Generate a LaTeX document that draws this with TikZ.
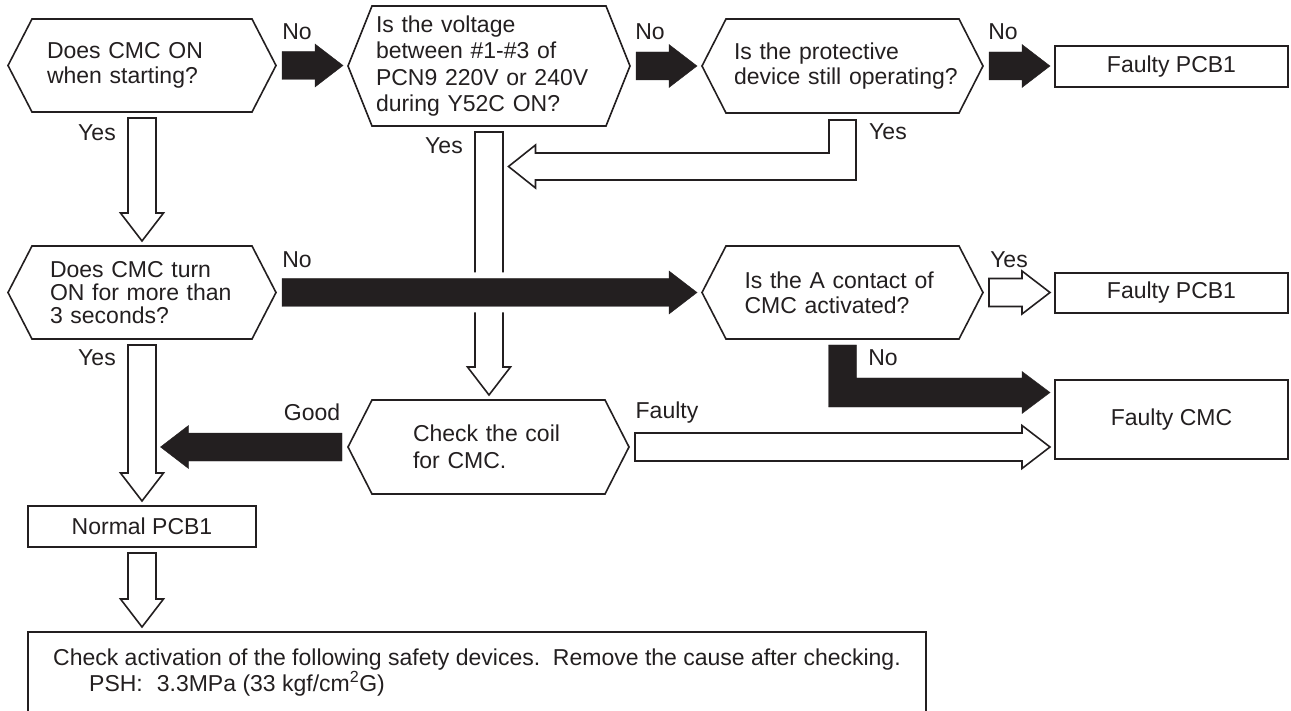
\documentclass[tikz,border=0pt]{standalone}
\usepackage{fontspec}
\setmainfont{Liberation Sans}
\usetikzlibrary{calc}
\definecolor{ink}{RGB}{35,31,32}
\def\shaftw{14pt}
\def\headw{21.5pt}
\def\headl{28pt}

\begin{document}
\begin{tikzpicture}[x=1pt,y=-1pt,line width=1.6pt,ink,font=\fontsize{23}{25}\selectfont]
    \tikzstyle{hexbox}=[rectangle, outer sep=0pt, inner ysep=0pt, align=left]
    \tikzstyle{box}=[rectangle, draw, outer sep=0pt, inner sep=0pt, align=center]
    \tikzstyle{lbl}=[inner sep=0pt]
    \tikzstyle{fat}=[to path={let \p1=(\tikztostart), \p2=(\tikztotarget),
        \n1={atan2(\y2-\y1,\x2-\x1)}, \n2={veclen(\x2-\x1,\y2-\y1)} in
        ([shift={(\p1)},rotate=\n1]6pt,-\shaftw) -- ([shift={(\p1)},rotate=\n1]\n2-5pt-\headl,-\shaftw)
        -- ([shift={(\p1)},rotate=\n1]\n2-5pt-\headl,-\headw) -- ([shift={(\p1)},rotate=\n1]\n2-5pt,0pt)
        -- ([shift={(\p1)},rotate=\n1]\n2-5pt-\headl,\headw) -- ([shift={(\p1)},rotate=\n1]\n2-5pt-\headl,\shaftw)
        -- ([shift={(\p1)},rotate=\n1]6pt,\shaftw) -- cycle}]
    \tikzstyle{blk}=[fat, fill=ink, line width=0.4pt]
    \tikzstyle{wht}=[fat, fill=white]

    \useasboundingbox (0,0) rectangle (1291,711);
    \clip (0,0) rectangle (1291,711);

    % decisions
    \node[hexbox, text width=190pt, inner xsep=39pt, minimum height=93pt] (start) at (142,65.5) {Does CMC ON\\when starting?};
    \node[hexbox, text width=226pt, inner xsep=28pt, minimum height=120pt, font=\fontsize{23}{26.3}\selectfont] (volt) at (489,66) {Is the voltage\\between \#1-\#3 of\\PCN9 220V or 240V\\during Y52C ON?};
    \node[hexbox, text width=217pt, inner xsep=32pt, minimum height=94pt] (prot) at (842.5,66) {Is the protective\\\mbox{device still operating?}};
    \node[hexbox, text width=184pt, inner xsep=42pt, minimum height=93pt, font=\fontsize{23}{23}\selectfont] (turn) at (142,292.5) {Does CMC turn\\ON for more than\\3 seconds?};
    \node[hexbox, text width=196pt, inner xsep=42.5pt, minimum height=93pt] (contact) at (842.5,292.5) {Is the A contact of\\CMC activated?};
    \node[hexbox, text width=151pt, inner xsep=65pt, minimum height=94pt, font=\fontsize{23}{27}\selectfont] (coil) at (488.5,447) {Check the coil\\for CMC.};

    % results
    \node[box, minimum width=233pt, minimum height=41pt] (fpcbA) at (1171.5,66.5) {Faulty PCB1};
    \node[box, minimum width=233pt, minimum height=40pt] (fpcbB) at (1171.5,293) {Faulty PCB1};
    \node[box, minimum width=233pt, minimum height=79pt] (fcmc) at (1171.5,419.5) {Faulty CMC};
    \node[box, minimum width=228pt, minimum height=41pt] (normal) at (142,526.5) {Normal PCB1};
    \node[box, anchor=north west, minimum width=898pt, minimum height=82pt, align=left, font=\fontsize{23}{24}\selectfont] (check) at (28,632)
      {Check activation of the following safety devices.\ \ Remove the cause after checking.\\\hspace*{36pt}PSH:\hspace{14pt}3.3MPa (33 kgf/cm\textsuperscript{2}G)};

    \coordinate (merge) at (502.5,166.5);
    \coordinate (goodend) at ([xshift=13.5pt]normal.north |- coil.west);

    \draw[wht] (volt.south) to (volt.south |- coil.north);
    \draw[blk, preaction={draw=white, line width=12pt, line join=round}] (turn.east) to (contact.west);
    \draw[blk] (start.east) to (start.east -| volt.west);
    \draw[blk] (volt.east) to (volt.east -| prot.west);
    \draw[blk] (prot.east) to (prot.east -| fpcbA.west);
    \draw[blk] (coil.west) to (goodend);
    \draw[wht] (start.south) to (start.south |- turn.north);
    \draw[wht] (turn.south) to (turn.south |- normal.north);
    \draw[wht] (normal.south) to (normal.south |- check.north);
    \draw[wht] (contact.east) to (contact.east -| fpcbB.west);
    \draw[wht] (coil.east) to (coil.east -| fcmc.west);
    % bent arrows
    \draw[fill=white] let \p1=(prot.south), \p2=(merge) in
      (\x1-13.5pt,\y1-7pt) -- (\x1+13.5pt,\y1-7pt) -- (\x1+13.5pt,\y2-13.5pt) -- (\x2+33pt,\y2-13.5pt)
      -- (\x2+33pt,\y2-21.5pt) -- (\x2+6pt,\y2) -- (\x2+33pt,\y2+21.5pt) -- (\x2+33pt,\y2+13.5pt)
      -- (\x1-13.5pt,\y2+13.5pt) -- cycle;
    \draw[fill=ink, line width=0.4pt] let \p1=(contact.south), \p2=([yshift=27pt]fcmc.west) in
      (\x1-14pt,\y1-6pt) -- (\x1+14pt,\y1-6pt) -- (\x1+14pt,\y2+14.5pt) -- (\x2-33pt,\y2+14.5pt)
      -- (\x2-33pt,\y2+21pt) -- (\x2-5pt,\y2) -- (\x2-33pt,\y2-21pt) -- (\x2-33pt,\y2-14.5pt)
      -- (\x1-14pt,\y2-14.5pt) -- cycle;

    \node[lbl] (no1) at (297,32) {No};
    \node[lbl] (no2) at (650,32) {No};
    \node[lbl] (no3) at (1003,32) {No};
    \node[lbl] (yes1) at (97,133) {Yes};
    \node[lbl] (yes2) at (444,146) {Yes};
    \node[lbl] (yes3) at (888,132) {Yes};
    \node[lbl] (no4) at (297,260) {No};
    \node[lbl] (yes4) at (97,358) {Yes};
    \node[lbl] (yes5) at (1009,260) {Yes};
    \node[lbl] (no5) at (883,358) {No};
    \node[lbl] (good) at (312,412) {Good};
    \node[lbl] (faulty) at (667,413) {Faulty};

    \foreach \h in {start,volt,prot,turn,contact,coil}
      \draw ([xshift=24pt]\h.north west) -- ([xshift=-24pt]\h.north east) -- (\h.east)
        -- ([xshift=-24pt]\h.south east) -- ([xshift=24pt]\h.south west) -- (\h.west) -- cycle;
  \end{tikzpicture}
\end{document}
